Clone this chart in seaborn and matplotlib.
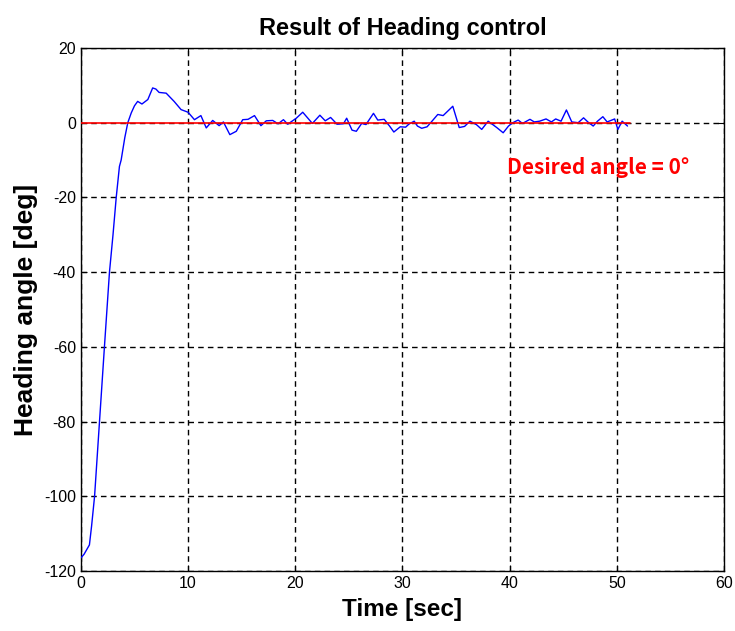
import matplotlib
matplotlib.use("Agg")
import matplotlib.pyplot as plt
import seaborn as sns
import numpy as np
import pandas as pd

# Heading response (time in seconds, heading in degrees)
time_s = [0.0, 0.3, 0.8, 1.0, 1.28, 1.74, 2.2, 2.67, 3.0, 3.3, 3.6, 3.76, 4.1, 4.38,
          4.7, 5.0, 5.3, 5.7, 6.25, 6.7, 7.0, 7.3, 7.96, 8.7, 9.35, 10.0, 10.6, 11.2,
          11.7, 12.3, 12.9, 13.3, 13.9, 14.5, 15.1, 15.6, 16.2, 16.8, 17.3, 17.9,
          18.4, 18.9, 19.3, 20.1, 20.7, 21.6, 22.3, 22.8, 23.3, 23.9, 24.5, 24.8,
          25.3, 25.7, 26.2, 26.6, 27.3, 27.7, 28.3, 28.8, 29.2, 29.8, 30.3, 30.6,
          31.1, 31.4, 31.8, 32.3, 32.7, 33.3, 33.8, 34.7, 35.3, 35.8, 36.3, 36.9,
          37.4, 38.0, 38.8, 39.4, 39.9, 40.3, 40.8, 41.2, 41.9, 42.3, 42.8, 43.4,
          43.9, 44.3, 44.8, 45.3, 45.8, 46.4, 46.9, 47.3, 47.8, 48.2, 48.7, 49.1,
          49.8, 50.1, 50.5, 51.0]
heading_deg = [-116.5, -115.5, -113.0, -108.0, -100.0, -80.0, -60.0, -40.0, -30.0, -20.0,
               -11.7, -10.0, -4.0, 0.0,
               2.6, 4.5, 5.7, 5.0, 6.2, 9.3, 9.0, 8.1, 7.9, 5.7, 3.5, 2.8, 0.8, 1.9,
               -1.4, 0.6, -0.8, 0.2, -3.2, -2.3, 0.8, 0.9, 1.9, -0.8, 0.5, 0.6,
               -0.3, 0.8, -0.4, 1.2, 2.8, -0.2, 2.0, 0.5, 1.4, -0.4, -0.3, 1.2,
               -2.0, -2.3, -0.2, -0.5, 2.5, 0.7, 0.9, -0.9, -2.5, -1.1, -1.2, -0.4,
               0.4, -0.9, -1.5, -1.1, 0.2, 2.2, 1.9, 4.4, -1.3, -1.0, 0.4, -0.5,
               -1.8, 0.4, -1.3, -2.7, -0.9, 0.0, 0.7, -0.2, 0.9, 0.2, 0.4, 1.0,
               0.2, 1.0, 0.4, 3.4, 0.2, 0.0, 1.3, 0.2, -0.9, 0.4, 1.6, 0.2,
               1.0, -1.8, 0.4, -0.9]

# Desired heading reference
ref_time = [0.0, 51.2]
ref_deg = [0.0, 0.0]

x_ticks = [0, 10, 20, 30, 40, 50, 60]
y_ticks = [-120, -100, -80, -60, -40, -20, 0, 20]

sns.set_style("white")
plt.rcParams["font.family"] = ["Liberation Sans", "DejaVu Sans"]
plt.rcParams["axes.unicode_minus"] = False
plt.rcParams["text.color"] = "black"
plt.rcParams["axes.labelcolor"] = "black"

fig = plt.figure(figsize=(7.35, 6.31), dpi=100)
ax = fig.add_axes([0.110, 0.095, 0.875, 0.829])

df = pd.DataFrame({"t": time_s, "psi": heading_deg})
ref = pd.DataFrame({"t": ref_time, "psi": ref_deg})

ax.set_xlim(0, 60)
ax.set_ylim(-120, 20)
ax.set_xticks(x_ticks)
ax.set_yticks(y_ticks)
ax.grid(True, color="black", linestyle=(0, (4, 3)), linewidth=1.0)
ax.set_axisbelow(True)

sns.lineplot(data=df, x="t", y="psi", color="#0000ff", linewidth=1.0, ax=ax,
             estimator=None, sort=False, zorder=3)
sns.lineplot(data=ref, x="t", y="psi", color="#ff0000", linewidth=1.2, ax=ax,
             estimator=None, zorder=4)

for s in ax.spines.values():
    s.set_color("black")
    s.set_linewidth(1.0)

ax.tick_params(direction="in", length=4, width=0.8, labelsize=11.5, colors="black",
               top=True, right=True, bottom=True, left=True)

ax.set_title("Result of Heading control", fontsize=17, fontweight="bold",
             color="black", pad=9)
ax.set_xlabel("Time [sec]", fontsize=17.5, fontweight="bold", labelpad=5)
ax.set_ylabel("Heading angle [deg]", fontsize=19, fontweight="bold", labelpad=4)

ax.text(39.8, -12.0, "Desired angle = 0°", color="#ff0000", fontsize=15,
        fontweight="bold", va="center", ha="left",
        family=["Noto Sans CJK KR", "DejaVu Sans"])

fig.savefig("out.png", dpi=100)
